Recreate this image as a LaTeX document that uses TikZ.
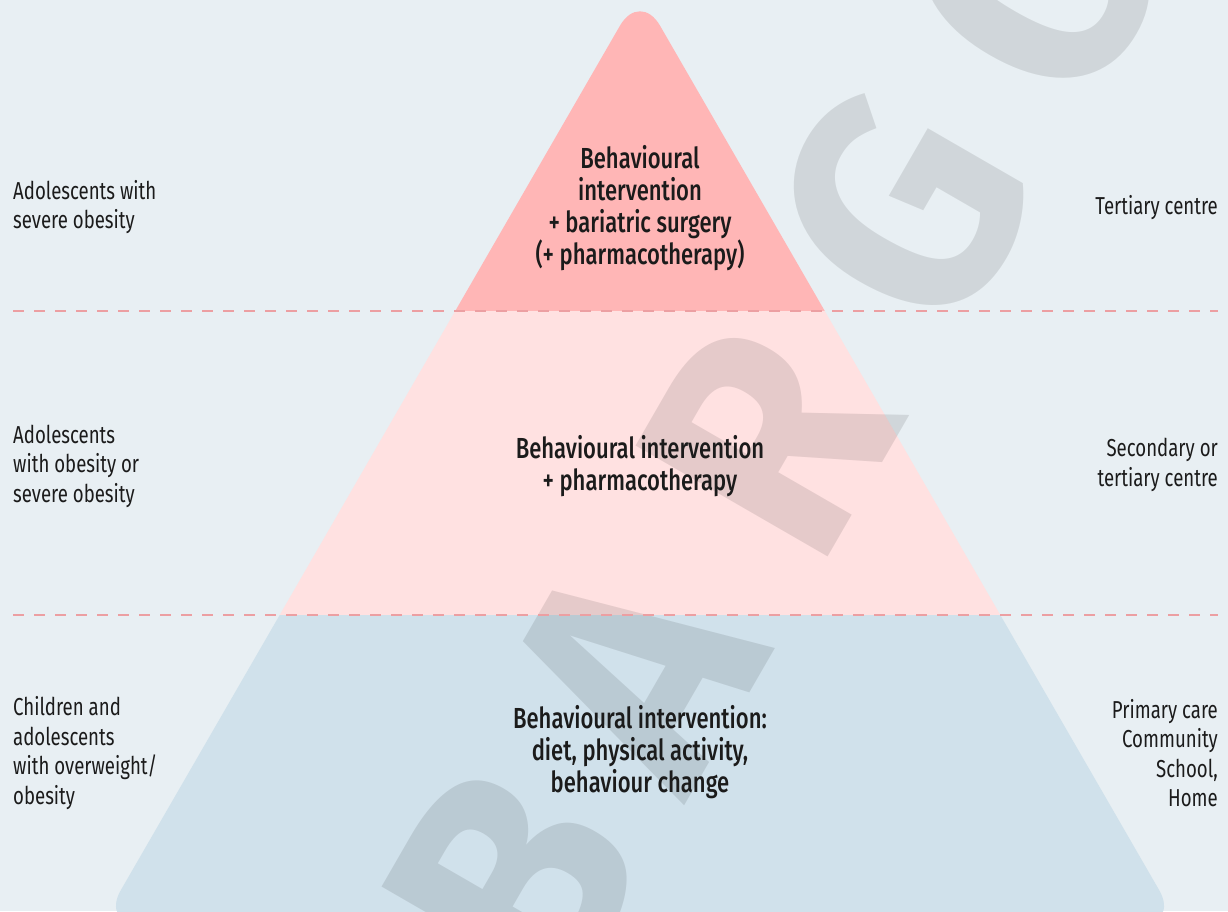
\documentclass[tikz,border=0pt]{standalone}
\usepackage{fontspec}
\setmainfont{Fira Sans}[FakeStretch=0.76, BoldFont={Fira Sans Medium}]
\newfontfamily\markfont{Fira Sans}[FakeStretch=0.92]
\usetikzlibrary{calc}
\definecolor{backdrop}{HTML}{E8EFF3}
\definecolor{toptier}{HTML}{FFB6B6}
\definecolor{midtier}{HTML}{FFE1E1}
\definecolor{basetier}{HTML}{D0E1EB}
\definecolor{dashred}{HTML}{EC9FA2}
\definecolor{inktext}{HTML}{1B1B1B}

\begin{document}
\begin{tikzpicture}[x=1pt,y=-1pt,
            sidelabel/.style={font=\fontsize{24.5}{29.5}\selectfont, text=inktext, inner sep=0pt},
            tierlabel/.style={font=\fontsize{29}{32}\selectfont\bfseries, align=center, text=inktext, inner sep=0pt},
            tierline/.style={draw=dashred, line width=1.8pt, dash pattern=on 11pt off 10pt},
            markletter/.style={rotate=60, text=black, text opacity=0.1, inner sep=0pt,
                font=\markfont\bfseries\fontsize{320}{320}\selectfont}]
        \fill[backdrop] (0,0) rectangle (1228,911);
        \useasboundingbox (0,0) rectangle (1228,911);
        % pyramid, three tiers
        \begin{scope}
            \clip[rounded corners=40] (640,-9) -- (1179.3,925) -- (100.7,925) -- cycle;
            \fill[toptier] (0,-20) rectangle (1228,311);
            \fill[midtier] (0,311) rectangle (1228,615);
            \fill[basetier] (0,615) rectangle (1228,940);
        \end{scope}
        % watermark
        \coordinate (markstart) at (366,1136);
        \foreach \letter/\d in {B/1.1, A/2, R/3, G/4, O/5}
            \node[markletter] (mark\letter) at ($(markstart)+(-60:\d*268)$) {\letter};
        \coordinate (upper west) at (13,311);
        \coordinate (upper east) at (1218,311);
        \coordinate (lower west) at (13,615);
        \coordinate (lower east) at (1218,615);
        \draw[tierline] (upper west) -- (upper east);
        \draw[tierline] (lower west) -- (lower east);
        % tiers
        \node[tierlabel] (surgery) at (640,208) {Behavioural\\intervention\\+ bariatric surgery\\(+ pharmacotherapy)};
        \node[tierlabel] (pharma) at (640,466) {Behavioural intervention\\+ pharmacotherapy};
        \node[tierlabel] (lifestyle) at (640,752) {Behavioural intervention:\\diet, physical activity,\\behaviour change};
        % who
        \node[sidelabel, anchor=west, align=left] (severe) at (13,207) {Adolescents with\\severe obesity};
        \node[sidelabel, anchor=west, align=left] (obese) at (13,466) {Adolescents\\with obesity or\\severe obesity};
        \node[sidelabel, anchor=west, align=left] (overweight) at (13,753) {Children and\\adolescents\\with overweight/\\obesity};
        % where
        \node[sidelabel, anchor=east, align=right] (tertiary) at (1218,208) {Tertiary centre};
        \node[sidelabel, anchor=east, align=right] (secondary) at (1218,465) {Secondary or\\tertiary centre};
        \node[sidelabel, anchor=east, align=right] (primary) at (1218,753) {Primary care\\Community\\School,\\Home};
    \end{tikzpicture}
\end{document}
